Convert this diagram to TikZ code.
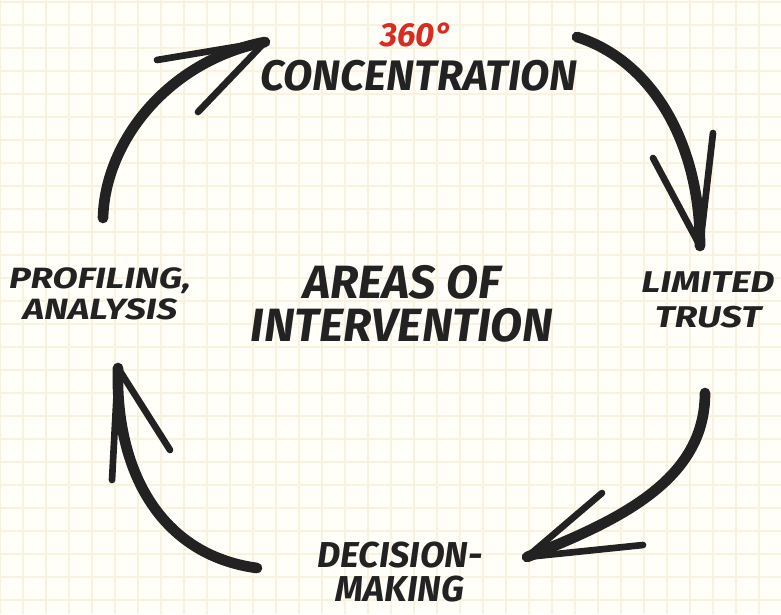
\documentclass[tikz,border=0pt]{standalone}
\usepackage{fontspec}
\usepackage{xcolor}
\usepackage{tikz}
\usetikzlibrary{positioning}
\newfontfamily\hand{Fira Sans}
\newfontfamily\handwide[FakeStretch=1.25]{Fira Sans}
\definecolor{ink}{RGB}{34, 34, 34}
\definecolor{marker}{RGB}{214, 44, 34}
\definecolor{paper}{RGB}{255, 254, 249}
\definecolor{gridcol}{RGB}{248, 242, 222}
\tikzstyle{handtext} = [draw=none, fill=none, text=ink, align=center, inner sep=0pt, font=\hand\bfseries\itshape]
\tikzstyle{redtext} = [handtext, text=marker]
\tikzstyle{gridline} = [draw=gridcol, line width=0.9pt]
\tikzstyle{shaft} = [draw=ink, line width=8pt, line cap=round]
\tikzstyle{barb} = [draw=ink, line width=5pt, line cap=round]

\begin{document}
\begin{tikzpicture}[x=0.75pt, y=-0.75pt]

% paper =============================
\fill[paper] (0,0) rectangle (781,614);
\useasboundingbox (0,0) rectangle (781,614);
\foreach \gx in {0,23,...,781} \path[gridline] (\gx,0) -- (\gx,614);
\foreach \gy in {2,25,...,614} \path[gridline] (0,\gy) -- (781,\gy);

% nodes
\node[handtext, font=\hand\bfseries\itshape\fontsize{35}{32}\selectfont] (areas) at (402,304) {AREAS OF\\INTERVENTION};
\node[handtext, font=\hand\bfseries\itshape\fontsize{32}{36}\selectfont] (conc) at (419,76) {CONCENTRATION};
\node[redtext, font=\hand\bfseries\itshape\fontsize{25}{28}\selectfont, above=10pt of conc, xshift=-2pt] (deg) {360°};
\node[handtext, font=\handwide\bfseries\itshape\fontsize{22}{23}\selectfont] (prof) at (100,294) {PROFILING,\\ANALYSIS};
\node[handtext, font=\handwide\bfseries\itshape\fontsize{22.5}{26}\selectfont] (trust) at (708,300) {LIMITED\\TRUST};
\node[handtext, font=\hand\bfseries\itshape\fontsize{27}{26}\selectfont] (dec) at (400,572) {DECISION-\\MAKING};

% arrow ends
\coordinate (s1) at (103,218);  \coordinate (t1) at (265,42);
\coordinate (s2) at (577,37);   \coordinate (t2) at (700,246);
\coordinate (s3) at (705,393);  \coordinate (t3) at (527,557);
\coordinate (s4) at (257,568);  \coordinate (t4) at (118,368);

% edges
\path[shaft] (s1) .. controls (105,140) and (170,60) .. (t1);
\path[barb] (t1) -- (157,60);
\path[barb] (t1) -- (198,112);

\path[shaft] (s2) .. controls (650,60) and (700,140) .. (t2);
\path[barb] (t2) -- (713,133);
\path[barb] (t2) -- (653,158);

\path[shaft] (s3) .. controls (705,480) and (620,520) .. (t3);
\path[barb] (t3) -- (602,493);
\path[barb] (t3) -- (643,545);

\path[shaft] (s4) .. controls (160,555) and (115,470) .. (t4);
\path[barb] (t4) -- (112,480);
\path[barb] (t4) -- (170,450);

\end{tikzpicture}
\end{document}
